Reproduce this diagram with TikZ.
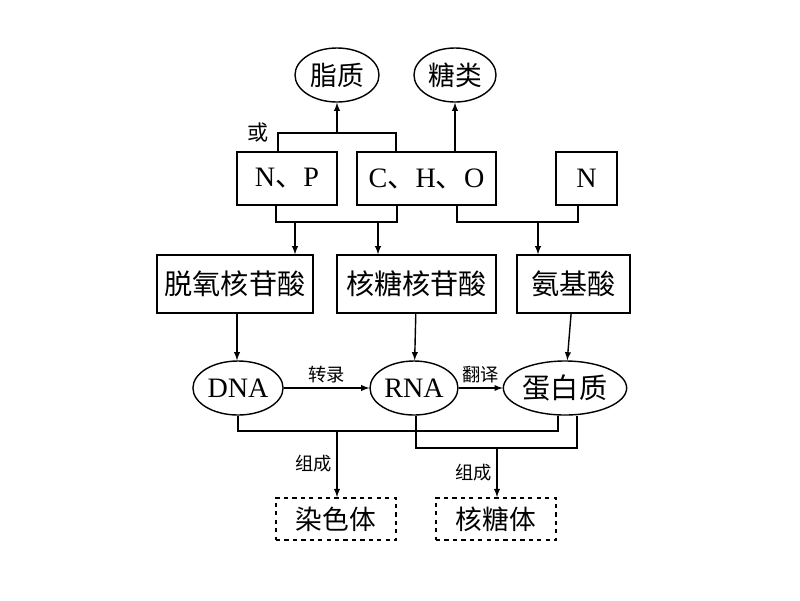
\documentclass[tikz,border=0pt]{standalone}
\usepackage{fontspec}
\setmainfont{Liberation Serif}
\newfontfamily\cjk{Noto Sans CJK SC}
\usetikzlibrary{shapes,arrows}
\usetikzlibrary{positioning}
\begin{document}
\begin{tikzpicture}[x=0.025cm, y=-0.025cm, line width=1pt, >=latex,
    box/.style={draw, minimum height=1.32cm, font=\fontsize{20}{22}\selectfont\cjk},
    oval/.style={draw, ellipse, minimum height=1.35cm, inner sep=1pt, font=\fontsize{20}{22}\selectfont},
    lbl/.style={font=\fontsize{13}{15}\selectfont\cjk},
    dbox/.style={draw, dashed, line width=1.4pt, minimum width=3cm, minimum height=1.05cm, font=\fontsize{19}{21}\selectfont\cjk}]
    \useasboundingbox (0,0) rectangle (800,600);
    % elements
    \node[box, minimum width=2.5cm, font=\fontsize{20}{22}\selectfont] (np) at (287,178.5) {N{\cjk 、}P};
    \node[box, minimum width=3.48cm, font=\fontsize{20}{22}\selectfont] (cho) at (426.5,178.5) {C{\cjk 、}H{\cjk 、}O};
    \node[box, minimum width=1.52cm, font=\fontsize{20}{22}\selectfont] (n) at (586.5,178.5) {N};
    \node[oval, minimum width=2.1cm, font=\fontsize{19}{21}\selectfont\cjk] (lipid) at (337,75) {脂质};
    \node[oval, minimum width=2.05cm, font=\fontsize{19}{21}\selectfont\cjk] (sugar) at (455,75) {糖类};
    \node[lbl, font=\fontsize{15}{17}\selectfont\cjk] (or) at (258,133) {或};
    % monomers
    \node[box, minimum width=3.9cm, minimum height=1.45cm] (dnt) at (235,284) {脱氧核苷酸};
    \node[box, minimum width=3.98cm, minimum height=1.45cm] (rnt) at (416.5,284) {核糖核苷酸};
    \node[box, minimum width=2.83cm, minimum height=1.45cm] (aa) at (573.5,284) {氨基酸};
    % polymers
    \node[oval, minimum width=2.02cm] (dna) at (238,388) {DNA};
    \node[oval, minimum width=1.98cm] (rna) at (414,388) {RNA};
    \node[oval, minimum width=2.52cm, font=\fontsize{20}{22}\selectfont\cjk] (prot) at (565,388) {蛋白质};
    % structures
    \node[dbox] (chrom) at (336,519) {染色体};
    \node[dbox] (ribo) at (496,519) {核糖体};
    \coordinate (t1) at (337,133);
    \coordinate (b1) at (295,222);
    \coordinate (b2) at (378,222);
    \coordinate (b3) at (538,222);
    \coordinate (c1) at (337,431);
    \coordinate (c2) at (497,448);

    % top connectors
    \draw (np.north -| 278,0) |- (t1) -| (cho.north -| 396,0);
    \draw[->] (t1) -- (lipid);
    \draw[->] (cho.north -| sugar) -- (sugar);
    \draw (np.south -| 276,0) |- (b1) -| (cho.south -| 397,0);
    \draw (cho.south -| 457,0) |- (b3) -| (n.south -| 578,0);
    \draw[->] (b1) -- (dnt.north -| b1);
    \draw[->] (b2) -- (rnt.north -| b2);
    \draw[->] (b3) -- (aa.north -| b3);
    % monomer to polymer
    \draw[->] (dnt.south -| 237,0) -- (dna.north -| 237,0);
    \draw[->] (rnt) -- (rna);
    \draw[->] (aa) -- (prot);
    \path[->] (dna) edge node[lbl, above] {转录} (rna)
              (rna) edge node[lbl, above] {翻译} (prot);
    % assembly
    \draw (dna.south) |- (c1) -| (prot.south -| 558,0);
    \draw (rna.south -| 416,0) |- (c2) -| (prot.south -| 577,0);
    \draw[->] (c1) -- node[lbl, left] {组成} (chrom.north -| c1);
    \draw[->] (c2) -- node[lbl, left] {组成} (ribo.north -| c2);
\end{tikzpicture}
\end{document}
